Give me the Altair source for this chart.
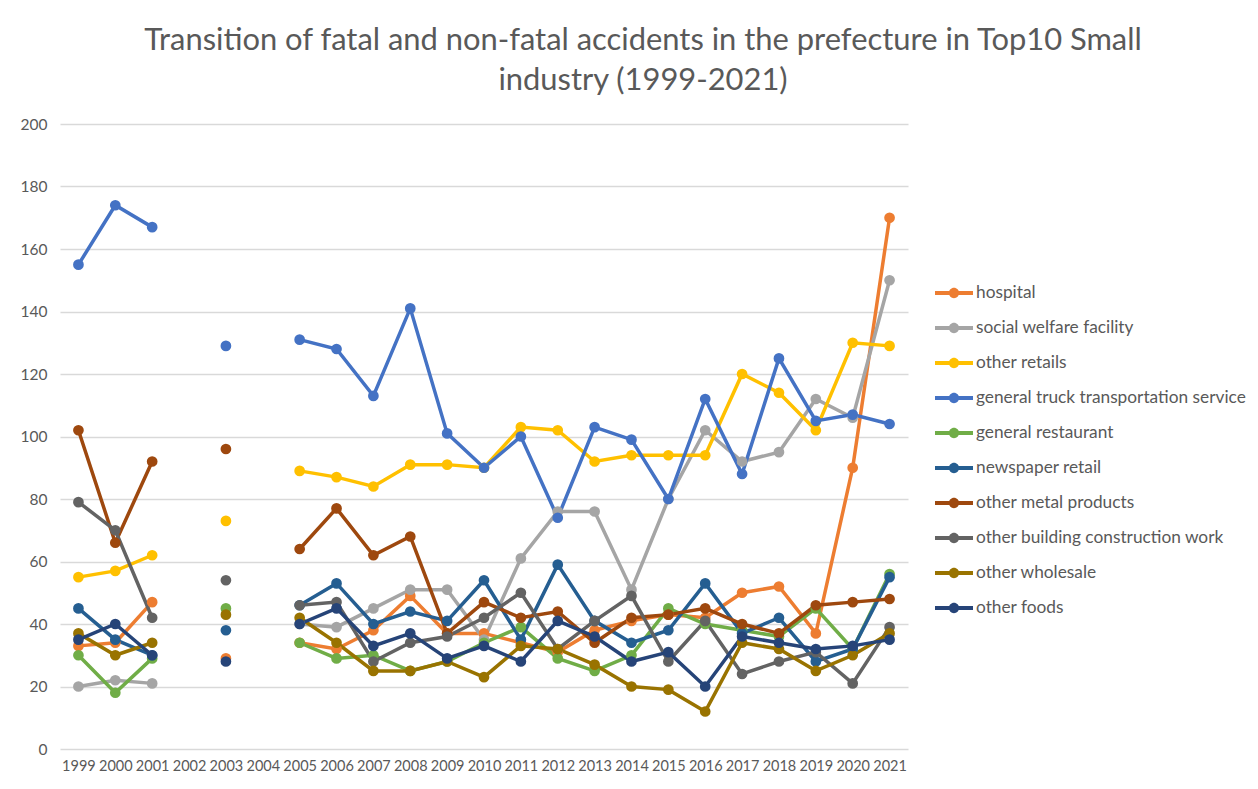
import altair as alt
import pandas as pd

years = [str(y) for y in range(1999, 2022)]

series_names = [
    "hospital",
    "social welfare facility",
    "other retails",
    "general truck transportation service",
    "general restaurant",
    "newspaper retail",
    "other metal products",
    "other building construction work",
    "other wholesale",
    "other foods",
]
colors = ["#ED7D31", "#A5A5A5", "#FFC000", "#4472C4", "#70AD47",
          "#255E91", "#9E480E", "#636363", "#997300", "#264478"]

N = None
hospital = [33, 34, 47, N, 29, N, 34, 32, 38, 49, 37, 37, 34, 31, 38, 41, 43, 42, 50, 52, 37, 90, 170]
social_welfare = [20, 22, 21, N, N, N, 40, 39, 45, 51, 51, 35, 61, 76, 76, 51, 80, 102, 92, 95, 112, 106, 150]
other_retails = [55, 57, 62, N, 73, N, 89, 87, 84, 91, 91, 90, 103, 102, 92, 94, 94, 94, 120, 114, 102, 130, 129]
truck = [155, 174, 167, N, 129, N, 131, 128, 113, 141, 101, 90, 100, 74, 103, 99, 80, 112, 88, 125, 105, 107, 104]
restaurant = [30, 18, 29, N, 45, N, 34, 29, 30, 25, 28, 34, 39, 29, 25, 30, 45, 40, 38, 36, 45, 32, 56]
newspaper = [45, 35, 30, N, 38, N, 46, 53, 40, 44, 41, 54, 35, 59, 41, 34, 38, 53, 37, 42, 28, 32, 55]
metal = [102, 66, 92, N, 96, N, 64, 77, 62, 68, 37, 47, 42, 44, 34, 42, 43, 45, 40, 37, 46, 47, 48]
building = [79, 70, 42, N, 54, N, 46, 47, 28, 34, 36, 42, 50, 32, 41, 49, 28, 41, 24, 28, 31, 21, 39]
wholesale = [37, 30, 34, N, 43, N, 42, 34, 25, 25, 28, 23, 33, 32, 27, 20, 19, 12, 34, 32, 25, 30, 37]
foods = [35, 40, 30, N, 28, N, 40, 45, 33, 37, 29, 33, 28, 41, 36, 28, 31, 20, 36, 34, 32, 33, 35]

all_values = [hospital, social_welfare, other_retails, truck, restaurant,
              newspaper, metal, building, wholesale, foods]

rows = []
for name, vals in zip(series_names, all_values):
    for yr, v in zip(years, vals):
        rows.append({"year": yr, "industry": name, "value": v})
df = pd.DataFrame(rows)

FONT = "Lato"
TEXT = "#595959"

x_enc = alt.X("year:O", scale=alt.Scale(domain=years, paddingInner=0, paddingOuter=0.5),
              axis=alt.Axis(title=None, labelAngle=0, ticks=False, domain=False,
                            labelFontSize=14.5, labelColor=TEXT, labelFont=FONT,
                            labelPadding=10))
y_enc = alt.Y("value:Q", scale=alt.Scale(domain=[0, 200], nice=False),
              axis=alt.Axis(title=None, values=list(range(0, 201, 20)), ticks=False,
                            domain=False, grid=True, gridColor="#D9D9D9", gridWidth=1.3,
                            labelFontSize=15.5, labelColor=TEXT, labelFont=FONT,
                            labelPadding=13))

legend_symbol = ("M-1,-0.1 L-0.2,-0.1 L-0.2,0.1 L-1,0.1 Z "
                 "M0.2,-0.1 L1,-0.1 L1,0.1 L0.2,0.1 Z "
                 "M-0.27,0 A0.27,0.27 0 1 1 0.27,0 A0.27,0.27 0 1 1 -0.27,0 Z")
legend = alt.Legend(title=None, orient="none", legendX=875, legendY=150,
                    symbolType=legend_symbol, symbolSize=1444,
                    symbolStrokeWidth=0, symbolOpacity=1, labelFont=FONT,
                    labelFontSize=17.3, labelColor=TEXT,
                    labelLimit=400, rowPadding=7, labelOffset=3)
color_enc = alt.Color("industry:N", scale=alt.Scale(domain=series_names, range=colors),
                      sort=series_names, legend=legend)

lines = alt.Chart(df).mark_line(strokeWidth=3.5, invalid="break-paths-show-domains").encode(
    x=x_enc, y=y_enc, color=color_enc,
    order=alt.Order("year:O"),
)

points = alt.Chart(df).mark_point(filled=True, size=115, opacity=1).encode(
    x=x_enc, y=y_enc, color=color_enc,
).transform_filter("datum.value != null")

chart = (lines + points).properties(
    width=848, height=625,
    autosize=alt.AutoSizeParams(type="none"),
    padding={"left": 52, "top": 116, "right": 342, "bottom": 32},
    title=alt.Title(
        ["Transition of fatal and non-fatal accidents in the prefecture in Top10 Small",
         "industry (1999-2021)"],
        anchor="middle", dx=159, offset=20, fontSize=30.9, font=FONT,
        fontWeight="normal", color=TEXT, lineHeight=40),
).configure(background="white").configure_view(stroke=None)

chart.save("out.html", embed_options={"renderer": "svg", "actions": False})
